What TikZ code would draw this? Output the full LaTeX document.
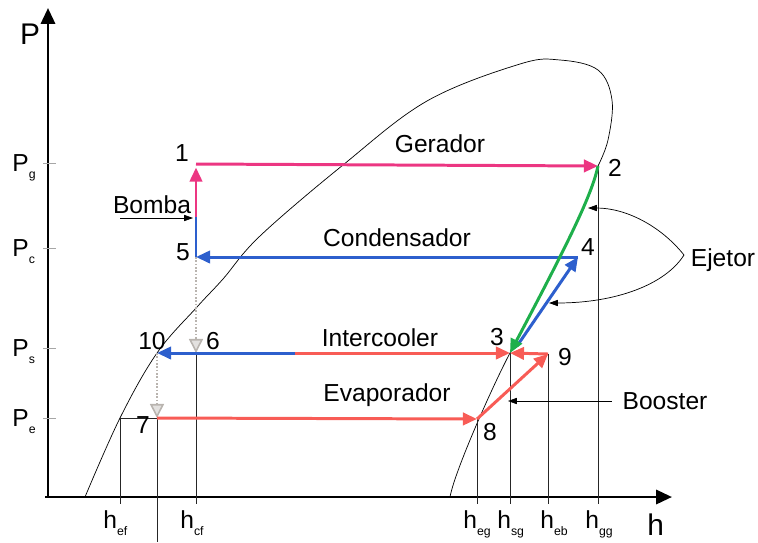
\documentclass[tikz,border=0pt]{standalone}
\usepackage{fontspec}
\setmainfont{Liberation Sans}
\usetikzlibrary{arrows.meta, positioning}
\usepackage{xcolor}

\definecolor{cycpink}{RGB}{236,54,130}
\definecolor{cycblue}{RGB}{45,95,205}
\definecolor{cycred}{RGB}{248,92,86}
\definecolor{cycgreen}{RGB}{30,175,75}
\definecolor{valvegray}{RGB}{185,180,175}

\newcommand{\lowsub}[1]{\raisebox{-0.6ex}{\fontsize{7}{8}\selectfont #1}}

\begin{document}
\begin{tikzpicture}[x=0.02cm, y=-0.02cm,
    lbl/.style={font=\fontsize{14}{16}\selectfont, inner sep=0pt},
    axlbl/.style={font=\fontsize{14}{16}\selectfont, inner sep=0pt, anchor=base west},
    axis/.style={line width=1.6pt, -{Triangle[length=9pt,width=8pt]}},
    guide/.style={line width=0.4pt, black!85},
    tickmark/.style={line width=0.4pt, black!35},
    flow/.style={line width=1.7pt, -{Triangle[length=8pt,width=7pt]}},
    note/.style={line width=0.4pt, -{Triangle[length=5pt,width=3.5pt]}},
    valve/.style={line width=0.9pt, densely dotted, draw=valvegray,
      -{Triangle[length=8pt,width=8pt,fill=valvegray!40,line width=0.9pt]}}
]
\useasboundingbox (0,0) rectangle (758,542);

% estados do ciclo
\coordinate (s1) at (196,164);
\coordinate (s2) at (598,166);
\coordinate (s3) at (510,353);
\coordinate (s3b) at (517,346);
\coordinate (s4) at (578,257);
\coordinate (s5) at (196,257);
\coordinate (s5b) at (196,217);
\coordinate (s6) at (196,353);
\coordinate (s7) at (157,418);
\coordinate (s8) at (477,419);
\coordinate (s9) at (548,354);
\coordinate (s10) at (157,353);
\coordinate (icmid) at (295,353);
\coordinate (ef) at (120,418);
\coordinate (O) at (48,497);
\coordinate (hb) at (0,504);
\coordinate (bot) at (0,542);

% eixos
\draw[axis] (O) -- (48,8);
\draw[axis] (45,497) -- (672,497);
\node[lbl, font=\fontsize{17}{19}\selectfont] (lblP) at (30,34) {P};
\node[lbl, font=\fontsize{17}{19}\selectfont, anchor=base west] (lblh) at (647,535) {h};

% marcas de pressao
\foreach \y in {163,248,348,418}
  \draw[tickmark] (43,\y) -- (56,\y);
\node[axlbl] (pg) at (12,171) {P\lowsub{g}};
\node[axlbl] (pc) at (12,256) {P\lowsub{c}};
\node[axlbl] (ps) at (12,356) {P\lowsub{s}};
\node[axlbl] (pe) at (12,426) {P\lowsub{e}};

% marcas de entalpia
\node[axlbl] (hef) at (103,528) {h\lowsub{ef}};
\node[axlbl] (hcf) at (180,528) {h\lowsub{cf}};
\node[axlbl] (heg) at (463,528) {h\lowsub{eg}};
\node[axlbl] (hsg) at (497,528) {h\lowsub{sg}};
\node[axlbl] (heb) at (540,528) {h\lowsub{eb}};
\node[axlbl] (hgg) at (585,528) {h\lowsub{gg}};

% curva de saturacao
\draw[line width=0.4pt] plot[smooth, tension=0.6] coordinates {
  (85,497) (120,418) (157,353) (197,307) (223,279) (260,236) (343,165)
  (427,101) (520,64) (560,60) (598,70) (612,100) (608,140) (598,166)}
  .. controls (592,195) and (567,245) .. (s3)
  .. controls (494,383) and (455,470) .. (450,497);

% linhas de referencia
\draw[guide] (s2) -- (s2 |- hb);
\draw[guide] (s9) -- (s9 |- hb);
\draw[guide] (s3) -- (s3 |- hb);
\draw[guide] (s8) -- (s8 |- hb);
\draw[guide] (s6) -- (s6 |- hb);
\draw[guide] (ef) -- (ef |- hb);
\draw[guide] (s7) -- (s7 |- bot);
\draw[guide] (ef) -- (s7);

% valvulas
\draw[valve] (s5) -- (s6);
\draw[valve] (s10) -- (s7);

% processos
\draw[line width=1.7pt, cycblue] (s5) -- (s5b);
\draw[flow, cycpink, shorten >=2pt] (s5b) -- (s1);
\draw[flow, cycpink] (s1) -- (s2);
\draw[flow, cycblue] (s4) -- (s5);
\draw[flow, cycblue] (s3b) -- (s4);
\draw[flow, cycgreen] (s2) .. controls (592,195) and (567,245) .. (s3);
\draw[flow, cycblue] (icmid) -- (s10);
\draw[flow, cycred] (icmid) -- (s3);
\draw[flow, cycred] (s9) -- (s3);
\draw[flow, cycred] (s7) -- (s8);
\draw[flow, cycred] (s8) -- (s9);

% numeros dos estados
\node[lbl] (n1) at (182,153) {1};
\node[lbl] (n2) at (615,168) {2};
\node[lbl] (n3) at (497,337) {3};
\node[lbl] (n4) at (588,247) {4};
\node[lbl] (n5) at (183,252) {5};
\node[lbl] (n6) at (213,341) {6};
\node[lbl] (n7) at (143,425) {7};
\node[lbl] (n8) at (490,432) {8};
\node[lbl] (n9) at (565,357) {9};
\node[lbl] (n10) at (152,341) {10};

% componentes
\node[lbl] (gerador) at (440,144) {Gerador};
\node[lbl] (condens) at (397,238) {Condensador};
\node[lbl] (intercool) at (380,338) {Intercooler};
\node[lbl] (evap) at (387,395) {Evaporador};
\node[lbl] (bomba) at (152,205) {Bomba};
\node[lbl] (booster) at (665,401) {Booster};
\node[lbl] (ejetor) at (723,260) {Ejetor};

\coordinate (bmstart) at (120,218);
\coordinate (bmtip) at (193,218);
\coordinate (bstip) at (508,401);
\coordinate (ejfork) at (684,255);
\coordinate (ejup) at (588,208);
\coordinate (ejdn) at (549,303);

\draw[note] (bmstart) -- (bmtip);
\draw[note, shorten <=6pt] (booster.west) -- (bstip);
\draw[note] (ejfork) .. controls (660,225) and (625,208) .. (ejup);
\draw[note] (ejfork) .. controls (665,285) and (615,303) .. (ejdn);
\end{tikzpicture}
\end{document}
